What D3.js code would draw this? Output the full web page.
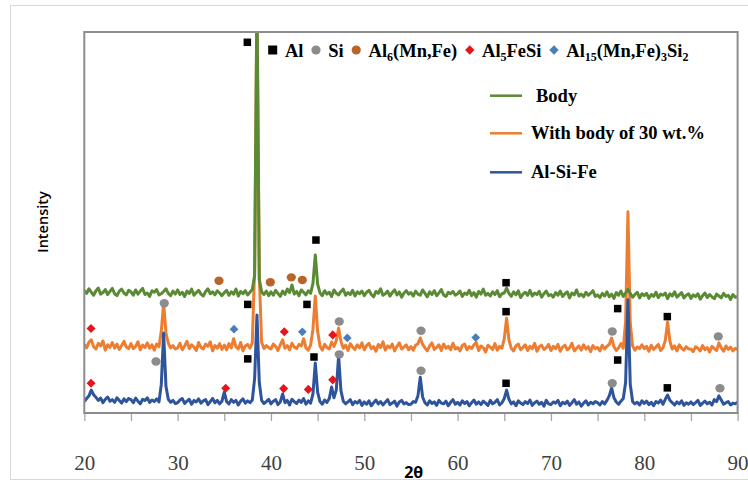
<!DOCTYPE html>
<html>
<head>
<meta charset="utf-8">
<script src="https://cdn.jsdelivr.net/npm/d3@7"></script>
<style>
  body { margin: 0; background: #fff; }
  svg { display: block; }
</style>
</head>
<body>
<svg id="chart" width="748" height="483"></svg>
<script>
// XRD scan, 2-theta from 20 to 90 in 0.25 deg steps (intensity in arbitrary counts)
const scanStart = 20;
const scanStep = 0.25;

const bodyCounts = [
  322,314,326,317,309,321,328,312,316,324,311,319,327,313,308,320,325,315,310,322,
  318,309,323,312,320,327,311,315,306,321,317,324,310,313,319,326,314,308,320,312,
  323,311,317,306,320,314,325,309,316,322,312,307,319,326,313,318,310,321,315,308,
  316,322,309,318,312,325,307,319,313,321,310,317,324,360,1100,350,318,311,320,308,
  318,309,322,314,306,320,311,325,316,336,312,319,308,323,317,310,321,314,340,415,
  338,315,308,321,312,317,306,323,314,310,319,325,309,316,311,322,307,318,313,320,
  308,317,322,311,305,319,314,326,309,313,320,307,316,323,310,318,304,315,321,312,
  316,307,320,312,309,323,314,305,318,311,321,308,315,324,310,306,317,313,319,309,
  313,320,306,315,311,322,308,316,304,319,312,325,309,314,307,318,311,321,305,313,
  315,328,314,306,318,310,321,303,312,317,309,322,307,315,311,319,304,313,320,308,
  311,304,316,309,320,306,313,318,302,315,310,323,307,312,305,317,309,314,321,306,
  310,303,314,307,318,305,312,301,316,309,320,306,315,325,314,304,311,317,302,313,
  308,314,301,311,306,317,303,312,309,315,300,313,307,318,304,310,316,302,309,313,
  301,310,306,313,299,308,315,303,311,305,300,312,307,302,314,306,309,298,311,304,
  305
];

const mixCounts = [
  180,171,186,192,174,168,183,176,189,165,179,172,185,170,181,167,177,188,173,169,
  182,169,175,187,166,178,172,184,170,179,165,181,174,215,289,210,183,171,177,168,
  171,183,166,176,188,169,179,173,164,185,172,168,181,175,187,163,177,170,182,167,
  178,166,182,171,195,174,168,185,163,176,180,170,184,380,1100,360,186,169,177,172,
  168,181,175,164,179,192,170,177,166,183,173,169,180,176,195,171,165,178,220,307,
  215,176,165,180,172,168,186,175,190,223,188,170,178,164,182,173,167,179,171,184,
  166,177,183,169,174,162,180,172,187,165,176,171,181,163,175,184,168,173,179,166,
  174,165,178,182,197,180,171,163,176,184,167,172,179,164,181,170,175,166,183,168,
  172,163,177,181,166,174,169,179,185,164,176,171,160,178,173,167,182,165,175,170,
  195,249,192,170,163,176,181,166,172,179,164,175,169,183,162,174,178,167,171,180,
  164,175,169,180,162,173,178,166,171,183,163,170,176,165,179,168,174,161,177,169,
  172,163,178,168,175,180,197,174,164,171,182,170,240,528,235,176,165,173,169,179,
  169,175,162,178,167,173,180,164,171,190,239,188,168,176,163,179,170,165,174,168,
  168,161,174,170,163,177,166,172,160,175,169,164,184,171,162,176,167,173,163,170,
  166
];

const alloyCounts = [
  30,38,45,60,48,41,33,39,27,36,42,31,35,28,40,33,26,37,30,38,
  35,27,39,31,24,36,33,40,28,34,30,37,29,75,210,70,36,28,33,25,
  27,34,38,25,31,36,23,33,29,37,26,32,35,22,30,38,27,33,24,31,
  55,30,24,35,28,33,21,31,37,26,32,27,34,90,257,80,33,25,30,36,
  24,31,35,22,29,50,27,33,21,36,30,25,34,28,38,23,32,26,50,131,
  55,30,23,34,28,38,68,40,60,150,58,31,24,29,35,22,30,26,33,20,
  29,23,32,19,27,34,24,30,21,28,35,22,26,31,18,29,33,24,27,22,
  23,30,28,45,94,42,27,21,32,25,29,20,33,26,24,31,19,28,35,23,
  28,21,32,25,30,19,27,34,23,29,22,31,26,20,33,24,28,35,21,27,
  38,60,36,24,29,19,32,26,22,30,25,34,20,27,31,23,28,18,33,24,
  22,29,26,33,19,28,24,31,20,27,35,23,29,18,26,32,21,28,24,30,
  27,21,30,24,33,45,66,40,29,23,31,38,80,297,75,30,24,28,21,32,
  25,31,22,28,19,30,26,34,23,36,47,33,27,21,29,24,32,20,27,23,
  29,22,27,33,20,26,31,24,28,21,35,30,45,34,23,27,30,21,26,24,
  28
];

const seriesNames = ["Body", "With body of 30 wt.%", "Al-Si-Fe"];
const xTicks = [20, 25, 30, 35, 40, 45, 50, 55, 60, 65, 70, 75, 80, 85, 90];

// phase markers [2theta, counts]
const alMarks = [[37.47, 973], [44.82, 454], [65.19, 342], [37.51, 285], [43.86, 285], [65.19, 266],
  [77.15, 274], [82.47, 253], [37.51, 142], [44.61, 147], [65.19, 78], [77.15, 139], [82.47, 66]];
const siMarks = [[28.57, 288], [47.32, 240], [56.08, 216], [76.57, 214], [87.93, 201],
  [27.68, 135], [47.32, 154], [56.08, 111], [76.57, 78], [88.11, 65]];
const al6Marks = [[34.43, 347], [39.93, 343], [42.18, 356], [43.36, 349]];
const al5Marks = [[20.72, 222], [41.43, 213], [46.62, 205], [20.72, 78], [35.15, 65],
  [41.36, 64], [44.0, 62], [46.62, 87]];
const al15Marks = [[36.04, 220], [43.36, 213], [48.18, 197], [61.94, 198]];

const phaseLabels = [
  [["Al", ""]],
  [["Si", ""]],
  [["Al", ""], ["6", "sub"], ["(Mn,Fe)", ""]],
  [["Al", ""], ["5", "sub"], ["FeSi", ""]],
  [["Al", ""], ["15", "sub"], ["(Mn,Fe)", ""], ["3", "sub"], ["Si", ""], ["2", "sub"]]
];

const lineColors = ["#5b8a35", "#ed7d31", "#2e549b"];
const serif = "'Liberation Serif', 'Times New Roman', serif";

let svg = d3.select("#chart");

// outer chart-area border
svg.append("rect")
    .attr("x", 10.5).attr("y", 5.5)
    .attr("width", 760).attr("height", 474)
    .attr("fill", "none")
    .attr("stroke", "#d9d9d9");

let xscale = d3.scaleLinear().domain([20, 90]).range([84.3, 737.6]);
let yscale = d3.scaleLinear().domain([0, 1000]).range([413, 32]);

svg.append("clipPath").attr("id", "plotclip")
    .append("rect")
    .attr("x", xscale(20)).attr("y", yscale(1000))
    .attr("width", xscale(90) - xscale(20))
    .attr("height", yscale(0) - yscale(1000));

let line = d3.line()
    .x((d, i) => xscale(scanStart + i * scanStep))
    .y(d => yscale(d));

// draw order: orange, blue, green on top
let traces = [
  {counts: mixCounts, color: lineColors[1]},
  {counts: alloyCounts, color: lineColors[2]},
  {counts: bodyCounts, color: lineColors[0]}
];
svg.append("g").attr("clip-path", "url(#plotclip)")
    .selectAll("path").data(traces).enter()
    .append("path")
    .attr("d", d => line(d.counts))
    .attr("fill", "none")
    .attr("stroke", d => d.color)
    .attr("stroke-width", 3)
    .attr("stroke-linejoin", "round");

// x axis
let xaxis = d3.axisBottom(xscale)
    .tickValues(xTicks)
    .tickSize(8)
    .tickFormat(d => d % 10 === 0 ? d : "");
let xaxisSel = svg.append("g")
    .attr("transform", `translate(0, ${yscale(0)})`)
    .call(xaxis);
xaxisSel.select(".domain").remove();
xaxisSel.selectAll(".tick line").attr("stroke", "#a6a6a6").attr("stroke-width", 1.3);
xaxisSel.selectAll(".tick text")
    .attr("y", 57).attr("dy", 0)
    .attr("fill", "#404040")
    .style("font-family", serif)
    .style("font-size", "21px");

// plot frame
svg.append("rect")
    .attr("x", xscale(20)).attr("y", yscale(1000))
    .attr("width", xscale(90) - xscale(20))
    .attr("height", yscale(0) - yscale(1000))
    .attr("fill", "none")
    .attr("stroke", "#8c8c8c")
    .attr("stroke-width", 2);

// axis titles
svg.append("text")
    .attr("x", xscale(55.3)).attr("y", 478)
    .attr("text-anchor", "middle")
    .style("font-family", "'Open Sans', Lato, sans-serif")
    .style("font-weight", "bold")
    .style("font-size", "16px")
    .text("2θ");
svg.append("text")
    .attr("transform", "translate(48, 222) rotate(-90)")
    .attr("text-anchor", "middle")
    .style("font-family", "'Open Sans', Lato, sans-serif")
    .style("font-weight", 600)
    .style("font-size", "14.5px")
    .text("Intensity");

// phase markers
function drawSquares(data, side) {
  svg.append("g").selectAll("rect").data(data).enter()
      .append("rect")
      .attr("x", d => xscale(d[0]) - side / 2)
      .attr("y", d => yscale(d[1]) - side / 2)
      .attr("width", side).attr("height", side)
      .attr("fill", "#000");
}
function drawDots(data, color) {
  svg.append("g").selectAll("ellipse").data(data).enter()
      .append("ellipse")
      .attr("cx", d => xscale(d[0]))
      .attr("cy", d => yscale(d[1]))
      .attr("rx", 4.6).attr("ry", 4.2)
      .attr("fill", color);
}
function drawDiamonds(data, color, side) {
  svg.append("g").selectAll("rect").data(data).enter()
      .append("rect")
      .attr("x", -side / 2).attr("y", -side / 2)
      .attr("width", side).attr("height", side)
      .attr("transform", d => `translate(${xscale(d[0])}, ${yscale(d[1])}) rotate(45)`)
      .attr("fill", color);
}
drawSquares(alMarks, 7.5);
drawDots(siMarks, "#8c8c8c");
drawDots(al6Marks, "#b8642b");
drawDiamonds(al5Marks, "#e8141c", 6.4);
drawDiamonds(al15Marks, "#4a7ebb", 6.2);

// phase legend across the top
let symbols = [
  g => g.append("rect").attr("x", -4.5).attr("y", -4.5).attr("width", 9).attr("height", 9).attr("fill", "#000"),
  g => g.append("circle").attr("r", 4.6).attr("fill", "#8c8c8c"),
  g => g.append("circle").attr("r", 4.6).attr("fill", "#b8642b"),
  g => g.append("rect").attr("x", -3.3).attr("y", -3.3).attr("width", 6.6).attr("height", 6.6)
          .attr("transform", "rotate(45)").attr("fill", "#e8141c"),
  g => g.append("rect").attr("x", -3.3).attr("y", -3.3).attr("width", 6.6).attr("height", 6.6)
          .attr("transform", "rotate(45)").attr("fill", "#4a7ebb")
];
let cx = 272.7;
phaseLabels.forEach((parts, i) => {
  let g = svg.append("g").attr("transform", `translate(${cx}, 50)`);
  symbols[i](g);
  let t = svg.append("text")
      .attr("x", cx + 12.3).attr("y", 56.5)
      .style("font-family", serif)
      .style("font-weight", "bold")
      .style("font-size", "18.5px");
  parts.forEach((p, j) => {
    let prevSub = j > 0 && parts[j - 1][1] === "sub";
    let ts = t.append("tspan").text(p[0]);
    if (p[1] === "sub") ts.attr("dy", 4).style("font-size", "12px");
    else if (prevSub) ts.attr("dy", -4);
  });
  cx = cx + 12.3 + t.node().getComputedTextLength() + 12.5;
});

// series legend
let legendRows = [95.7, 133.3, 172.3];
seriesNames.forEach((name, i) => {
  svg.append("line")
      .attr("x1", 490).attr("x2", 522)
      .attr("y1", legendRows[i]).attr("y2", legendRows[i])
      .attr("stroke", lineColors[i])
      .attr("stroke-width", 2.5);
  svg.append("text")
      .attr("x", i === 0 ? 536 : 531)
      .attr("y", legendRows[i] + 6)
      .style("font-family", serif)
      .style("font-weight", "bold")
      .style("font-size", "18.5px")
      .text(name);
});
</script>
</body>
</html>
